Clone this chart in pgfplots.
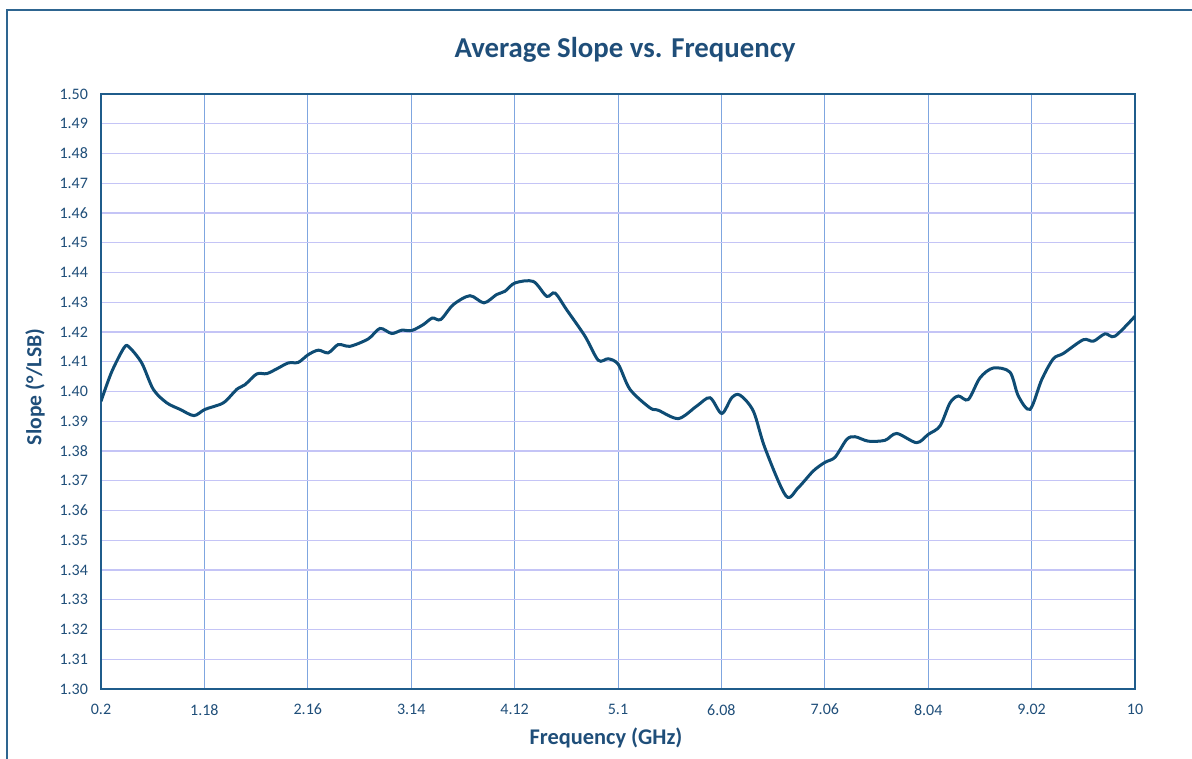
\documentclass[border=0pt]{standalone}
\usepackage{pgfplots}
\pgfplotsset{compat=1.18}
\usepackage{fontspec}
\setmainfont{Carlito}
\definecolor{txt}{HTML}{1F4E79}
\definecolor{curve}{HTML}{0E4C74}
\definecolor{vgrid}{HTML}{7FA6E0}
\definecolor{hgrid}{HTML}{C4C4F6}
\definecolor{axisc}{HTML}{1F5C8B}
\definecolor{frame}{HTML}{2E6590}

\begin{document}
\begin{tikzpicture}
% whole image = 1192 x 759 px, 1 px = 0.5pt
\useasboundingbox (0,0) rectangle (596pt,-379.5pt);
\draw[frame, line width=0.8pt] (3.5pt,-379.5pt) -- (3.5pt,-5pt) -- (596pt,-5pt);
\node[txt, font=\fontsize{14.4}{16}\selectfont\bfseries] at (312.5pt,-25pt) {Average Slope vs. Frequency};
\node[txt, font=\fontsize{11.2}{13}\selectfont\bfseries] at (303pt,-369pt) {Frequency (GHz)};
\node[txt, font=\fontsize{10.8}{13}\selectfont\bfseries, rotate=90] at (17.5pt,-193.5pt) {Slope (°/LSB)};
\begin{axis}[
    at={(50.5pt,-344.5pt)}, anchor=south west,
    scale only axis, width=517pt, height=297.5pt,
    xmin=0.2, xmax=10, ymin=1.30, ymax=1.50,
    xtick={0.2,1.18,2.16,3.14,4.12,5.1,6.08,7.06,8.04,9.02,10},
    xticklabels={0.2,1.18,2.16,3.14,4.12,5.1,6.08,7.06,8.04,9.02,10},
    ytick={1.30,1.31,...,1.505},
    yticklabel style={xshift=-3pt, /pgf/number format/fixed, /pgf/number format/fixed zerofill, /pgf/number format/precision=2},
    /pgf/number format/assume math mode=true,
    tick label style={txt, font=\fontsize{8}{9}\selectfont},
    xticklabel style={yshift=-4pt},
    major tick length=0pt,
    xmajorgrids, ymajorgrids,
    x grid style={vgrid, line width=0.5pt},
    y grid style={hgrid, line width=0.6pt},
    axis line style={axisc, line width=1pt},
]
\addplot[curve, line width=1.5pt, smooth, tension=0.5] coordinates {
(0.200,1.3967) (0.300,1.4065) (0.420,1.4148) (0.470,1.4148) (0.586,1.4096)
(0.696,1.4007) (0.823,1.3962) (0.949,1.3940) (1.081,1.3919) (1.186,1.3940)
(1.360,1.3962) (1.486,1.4007) (1.565,1.4023) (1.676,1.4059) (1.770,1.4060)
(1.865,1.4076) (1.975,1.4096) (2.070,1.4098) (2.165,1.4124) (2.260,1.4139)
(2.354,1.4130) (2.449,1.4158) (2.560,1.4152) (2.734,1.4177) (2.844,1.4212)
(2.955,1.4195) (3.050,1.4206) (3.145,1.4205) (3.255,1.4225) (3.340,1.4247)
(3.420,1.4242) (3.539,1.4292) (3.697,1.4322) (3.830,1.4298) (3.950,1.4326)
(4.029,1.4337) (4.124,1.4365) (4.297,1.4370) (4.424,1.4320) (4.503,1.4331)
(4.613,1.4275) (4.787,1.4186) (4.913,1.4105) (5.008,1.4110) (5.103,1.4091)
(5.214,1.4007) (5.403,1.3945) (5.482,1.3937) (5.672,1.3909) (5.846,1.3951)
(5.972,1.3979) (6.083,1.3926) (6.178,1.3979) (6.256,1.3988) (6.383,1.3934)
(6.493,1.3810) (6.692,1.3649) (6.809,1.3677) (6.951,1.3733) (7.062,1.3762)
(7.157,1.3779) (7.268,1.3839) (7.346,1.3848) (7.473,1.3833) (7.631,1.3836)
(7.742,1.3859) (7.930,1.3828) (8.041,1.3856) (8.152,1.3884) (8.247,1.3962)
(8.326,1.3985) (8.420,1.3973) (8.531,1.4046) (8.657,1.4079) (8.815,1.4065)
(8.894,1.3985) (9.005,1.3940) (9.116,1.4040) (9.226,1.4110) (9.321,1.4128)
(9.510,1.4174) (9.605,1.4169) (9.716,1.4194) (9.810,1.4186) (10.000,1.4253)
};
\end{axis}
\end{tikzpicture}
\end{document}
